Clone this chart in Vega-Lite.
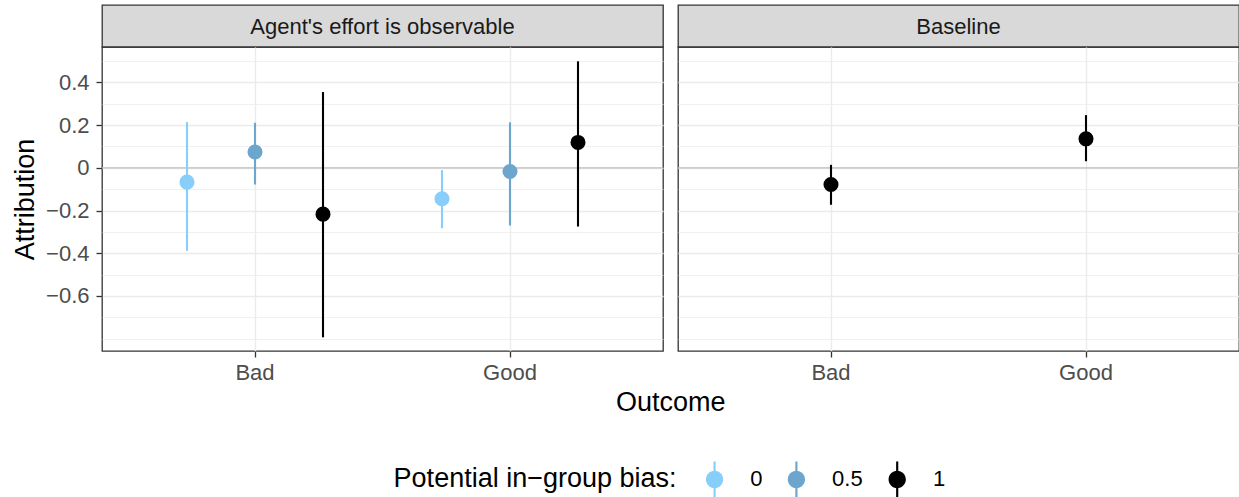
{
  "$schema": "https://vega.github.io/schema/vega-lite/v6.json",
  "padding": {"left": 10, "top": 4, "right": 0, "bottom": 0},
  "background": "white",
  "datasets": {
    "d": [
      {"panel": "obs", "outcome": "Bad", "bias": "0", "est": -0.067, "lo": -0.389, "hi": 0.214},
      {"panel": "obs", "outcome": "Bad", "bias": "0.5", "est": 0.074, "lo": -0.078, "hi": 0.211},
      {"panel": "obs", "outcome": "Bad", "bias": "1", "est": -0.217, "lo": -0.794, "hi": 0.355},
      {"panel": "obs", "outcome": "Good", "bias": "0", "est": -0.145, "lo": -0.283, "hi": -0.011},
      {"panel": "obs", "outcome": "Good", "bias": "0.5", "est": -0.017, "lo": -0.270, "hi": 0.213},
      {"panel": "obs", "outcome": "Good", "bias": "1", "est": 0.119, "lo": -0.275, "hi": 0.499},
      {"panel": "base", "outcome": "Bad", "bias": "1", "est": -0.078, "lo": -0.173, "hi": 0.014},
      {"panel": "base", "outcome": "Good", "bias": "1", "est": 0.136, "lo": 0.031, "hi": 0.247}
    ]
  },
  "config": {
    "font": "Liberation Sans",
    "view": {"stroke": "#333333", "strokeWidth": 1.3},
    "axis": {
      "labelFont": "Liberation Sans", "labelFontSize": 22, "labelColor": "#4D4D4D",
      "titleFont": "Liberation Sans", "titleFontSize": 27, "titleFontWeight": "normal", "titleColor": "#000000",
      "tickColor": "#333333", "tickWidth": 1.3, "tickSize": 6, "domain": false,
      "gridColor": "#EBEBEB", "gridWidth": 1.4, "labelPadding": 7
    },
    "axisX": {"labelPadding": 5.5, "titlePadding": 6, "labelAngle": 0},
    "axisY": {"titlePadding": 6},
    "legend": {
      "labelFont": "Liberation Sans", "titleFont": "Liberation Sans"
    }
  },
  "columns": 2,
  "bounds": "flush",
  "spacing": {"row": 0, "column": 15},
  "concat": [
    {
      "data": {"values": [{"strip": "Agent's effort is observable"}]},
      "width": 561, "height": 42,
      "view": {"fill": "#D9D9D9", "stroke": "#333333", "strokeWidth": 1.3},
      "mark": {"type": "text", "fontSize": 22, "color": "#1A1A1A", "font": "Liberation Sans", "dy": 1},
      "encoding": {"text": {"field": "strip", "type": "nominal"}}
    },
    {
      "data": {"values": [{"strip": "Baseline"}]},
      "width": 561, "height": 42,
      "view": {"fill": "#D9D9D9", "stroke": "#333333", "strokeWidth": 1.3},
      "mark": {"type": "text", "fontSize": 22, "color": "#1A1A1A", "font": "Liberation Sans", "dy": 1},
      "encoding": {"text": {"field": "strip", "type": "nominal"}}
    },
    {
      "width": 561, "height": 304,
      "resolve": {"axis": {"y": "independent"}},
      "layer": [
        {
          "data": {"values": [{}]},
          "mark": {"type": "rule", "color": "#BEBEBE", "strokeWidth": 1.4},
          "encoding": {
            "y": {"datum": 0, "type": "quantitative",
              "scale": {"domain": [-0.858, 0.566], "nice": false, "zero": false},
              "axis": {"orient": "right", "values": [-0.8, -0.7, -0.5, -0.3, -0.1, 0.1, 0.3, 0.5], "grid": true, "gridWidth": 0.7, "labels": false, "ticks": false, "domain": false, "title": null}}
          }
        },
        {
          "data": {"name": "d"},
          "transform": [{"filter": "datum.panel === 'obs'"}],
          "mark": {"type": "rule", "strokeWidth": 2.1},
          "encoding": {
            "x": {"field": "outcome", "type": "nominal",
              "scale": {"type": "band", "domain": ["Bad", "Good"], "paddingInner": 0.2, "paddingOuter": 0.2},
              "axis": {"title": "Outcome", "bandPosition": 0.5, "grid": true, "titleX": 568.3, "titleAlign": "center"}},
            "xOffset": {"field": "bias", "type": "nominal", "scale": {"domain": ["0", "0.5", "1"], "paddingInner": 0, "paddingOuter": 0}},
            "y": {"field": "lo", "type": "quantitative",
              "scale": {"domain": [-0.858, 0.566], "nice": false, "zero": false},
              "axis": {"orient": "left", "values": [-0.6, -0.4, -0.2, 0, 0.2, 0.4], "format": ".1~f", "title": "Attribution", "grid": true}},
            "y2": {"field": "hi"},
            "stroke": {"field": "bias", "type": "nominal", "scale": {"range": ["#87CEFA", "#6CA6CD", "#000000"]}, "legend": null}
          }
        },
        {
          "data": {"name": "d"},
          "transform": [{"filter": "datum.panel === 'obs'"}],
          "mark": {"type": "point", "filled": true, "size": 227, "opacity": 1, "strokeWidth": 0},
          "encoding": {
            "x": {"field": "outcome", "type": "nominal",
              "scale": {"type": "band", "domain": ["Bad", "Good"], "paddingInner": 0.2, "paddingOuter": 0.2},
              "axis": {"title": "Outcome", "bandPosition": 0.5, "grid": true, "titleX": 568.3, "titleAlign": "center"}},
            "xOffset": {"field": "bias", "type": "nominal", "scale": {"domain": ["0", "0.5", "1"], "paddingInner": 0, "paddingOuter": 0}},
            "y": {"field": "est", "type": "quantitative", "scale": {"domain": [-0.858, 0.566], "nice": false, "zero": false}, "axis": null},
            "color": {"field": "bias", "type": "nominal",
              "scale": {"domain": ["0", "0.5", "1"], "range": ["#87CEFA", "#6CA6CD", "#000000"]},
              "legend": {
                "title": "Potential in−group bias:", "orient": "none", "legendX": 291.6, "legendY": 456.4,
                "direction": "horizontal", "titleOrient": "left", "titleAnchor": "middle", "titleBaseline": "middle",
                "titleFontSize": 27, "titleFontWeight": "normal", "titleColor": "#000000", "titleLimit": 1000, "titlePadding": 20,
                "labelFontSize": 22, "labelColor": "#000000", "labelOffset": 17.7, "columnPadding": 15.8, "padding": 0,
                "symbolType": "M-0.06,-1L0.06,-1L0.06,1L-0.06,1Z M-0.48,0A0.48,0.48,0,1,1,0.48,0A0.48,0.48,0,1,1,-0.48,0Z",
                "symbolSize": 1296, "symbolStrokeWidth": 0, "symbolOpacity": 1
              }}
          }
        }
      ]
    },
    {
      "width": 561, "height": 304,
      "resolve": {"axis": {"y": "independent"}},
      "layer": [
        {
          "data": {"values": [{}]},
          "mark": {"type": "rule", "color": "#BEBEBE", "strokeWidth": 1.4},
          "encoding": {
            "y": {"datum": 0, "type": "quantitative",
              "scale": {"domain": [-0.858, 0.566], "nice": false, "zero": false},
              "axis": {"orient": "right", "values": [-0.8, -0.7, -0.5, -0.3, -0.1, 0.1, 0.3, 0.5], "grid": true, "gridWidth": 0.7, "labels": false, "ticks": false, "domain": false, "title": null}}
          }
        },
        {
          "data": {"name": "d"},
          "transform": [{"filter": "datum.panel === 'base'"}],
          "mark": {"type": "rule", "strokeWidth": 2.1},
          "encoding": {
            "x": {"field": "outcome", "type": "nominal",
              "scale": {"type": "band", "domain": ["Bad", "Good"], "paddingInner": 0.2, "paddingOuter": 0.2},
              "axis": {"title": null, "bandPosition": 0.5, "grid": true}},
            "y": {"field": "lo", "type": "quantitative",
              "scale": {"domain": [-0.858, 0.566], "nice": false, "zero": false},
              "axis": {"orient": "left", "values": [-0.6, -0.4, -0.2, 0, 0.2, 0.4], "labels": false, "ticks": false, "title": null, "grid": true}},
            "y2": {"field": "hi"},
            "stroke": {"field": "bias", "type": "nominal", "scale": {"range": ["#87CEFA", "#6CA6CD", "#000000"]}, "legend": null}
          }
        },
        {
          "data": {"name": "d"},
          "transform": [{"filter": "datum.panel === 'base'"}],
          "mark": {"type": "point", "filled": true, "size": 227, "opacity": 1, "strokeWidth": 0},
          "encoding": {
            "x": {"field": "outcome", "type": "nominal",
              "scale": {"type": "band", "domain": ["Bad", "Good"], "paddingInner": 0.2, "paddingOuter": 0.2},
              "axis": {"title": null, "bandPosition": 0.5, "grid": true}},
            "y": {"field": "est", "type": "quantitative", "scale": {"domain": [-0.858, 0.566], "nice": false, "zero": false}, "axis": null},
            "color": {"field": "bias", "type": "nominal",
              "scale": {"domain": ["0", "0.5", "1"], "range": ["#87CEFA", "#6CA6CD", "#000000"]},
              "legend": {
                "title": "Potential in−group bias:", "orient": "none", "legendX": 291.6, "legendY": 456.4,
                "direction": "horizontal", "titleOrient": "left", "titleAnchor": "middle", "titleBaseline": "middle",
                "titleFontSize": 27, "titleFontWeight": "normal", "titleColor": "#000000", "titleLimit": 1000, "titlePadding": 20,
                "labelFontSize": 22, "labelColor": "#000000", "labelOffset": 17.7, "columnPadding": 15.8, "padding": 0,
                "symbolType": "M-0.06,-1L0.06,-1L0.06,1L-0.06,1Z M-0.48,0A0.48,0.48,0,1,1,0.48,0A0.48,0.48,0,1,1,-0.48,0Z",
                "symbolSize": 1296, "symbolStrokeWidth": 0, "symbolOpacity": 1
              }}
          }
        }
      ]
    }
  ]
}
